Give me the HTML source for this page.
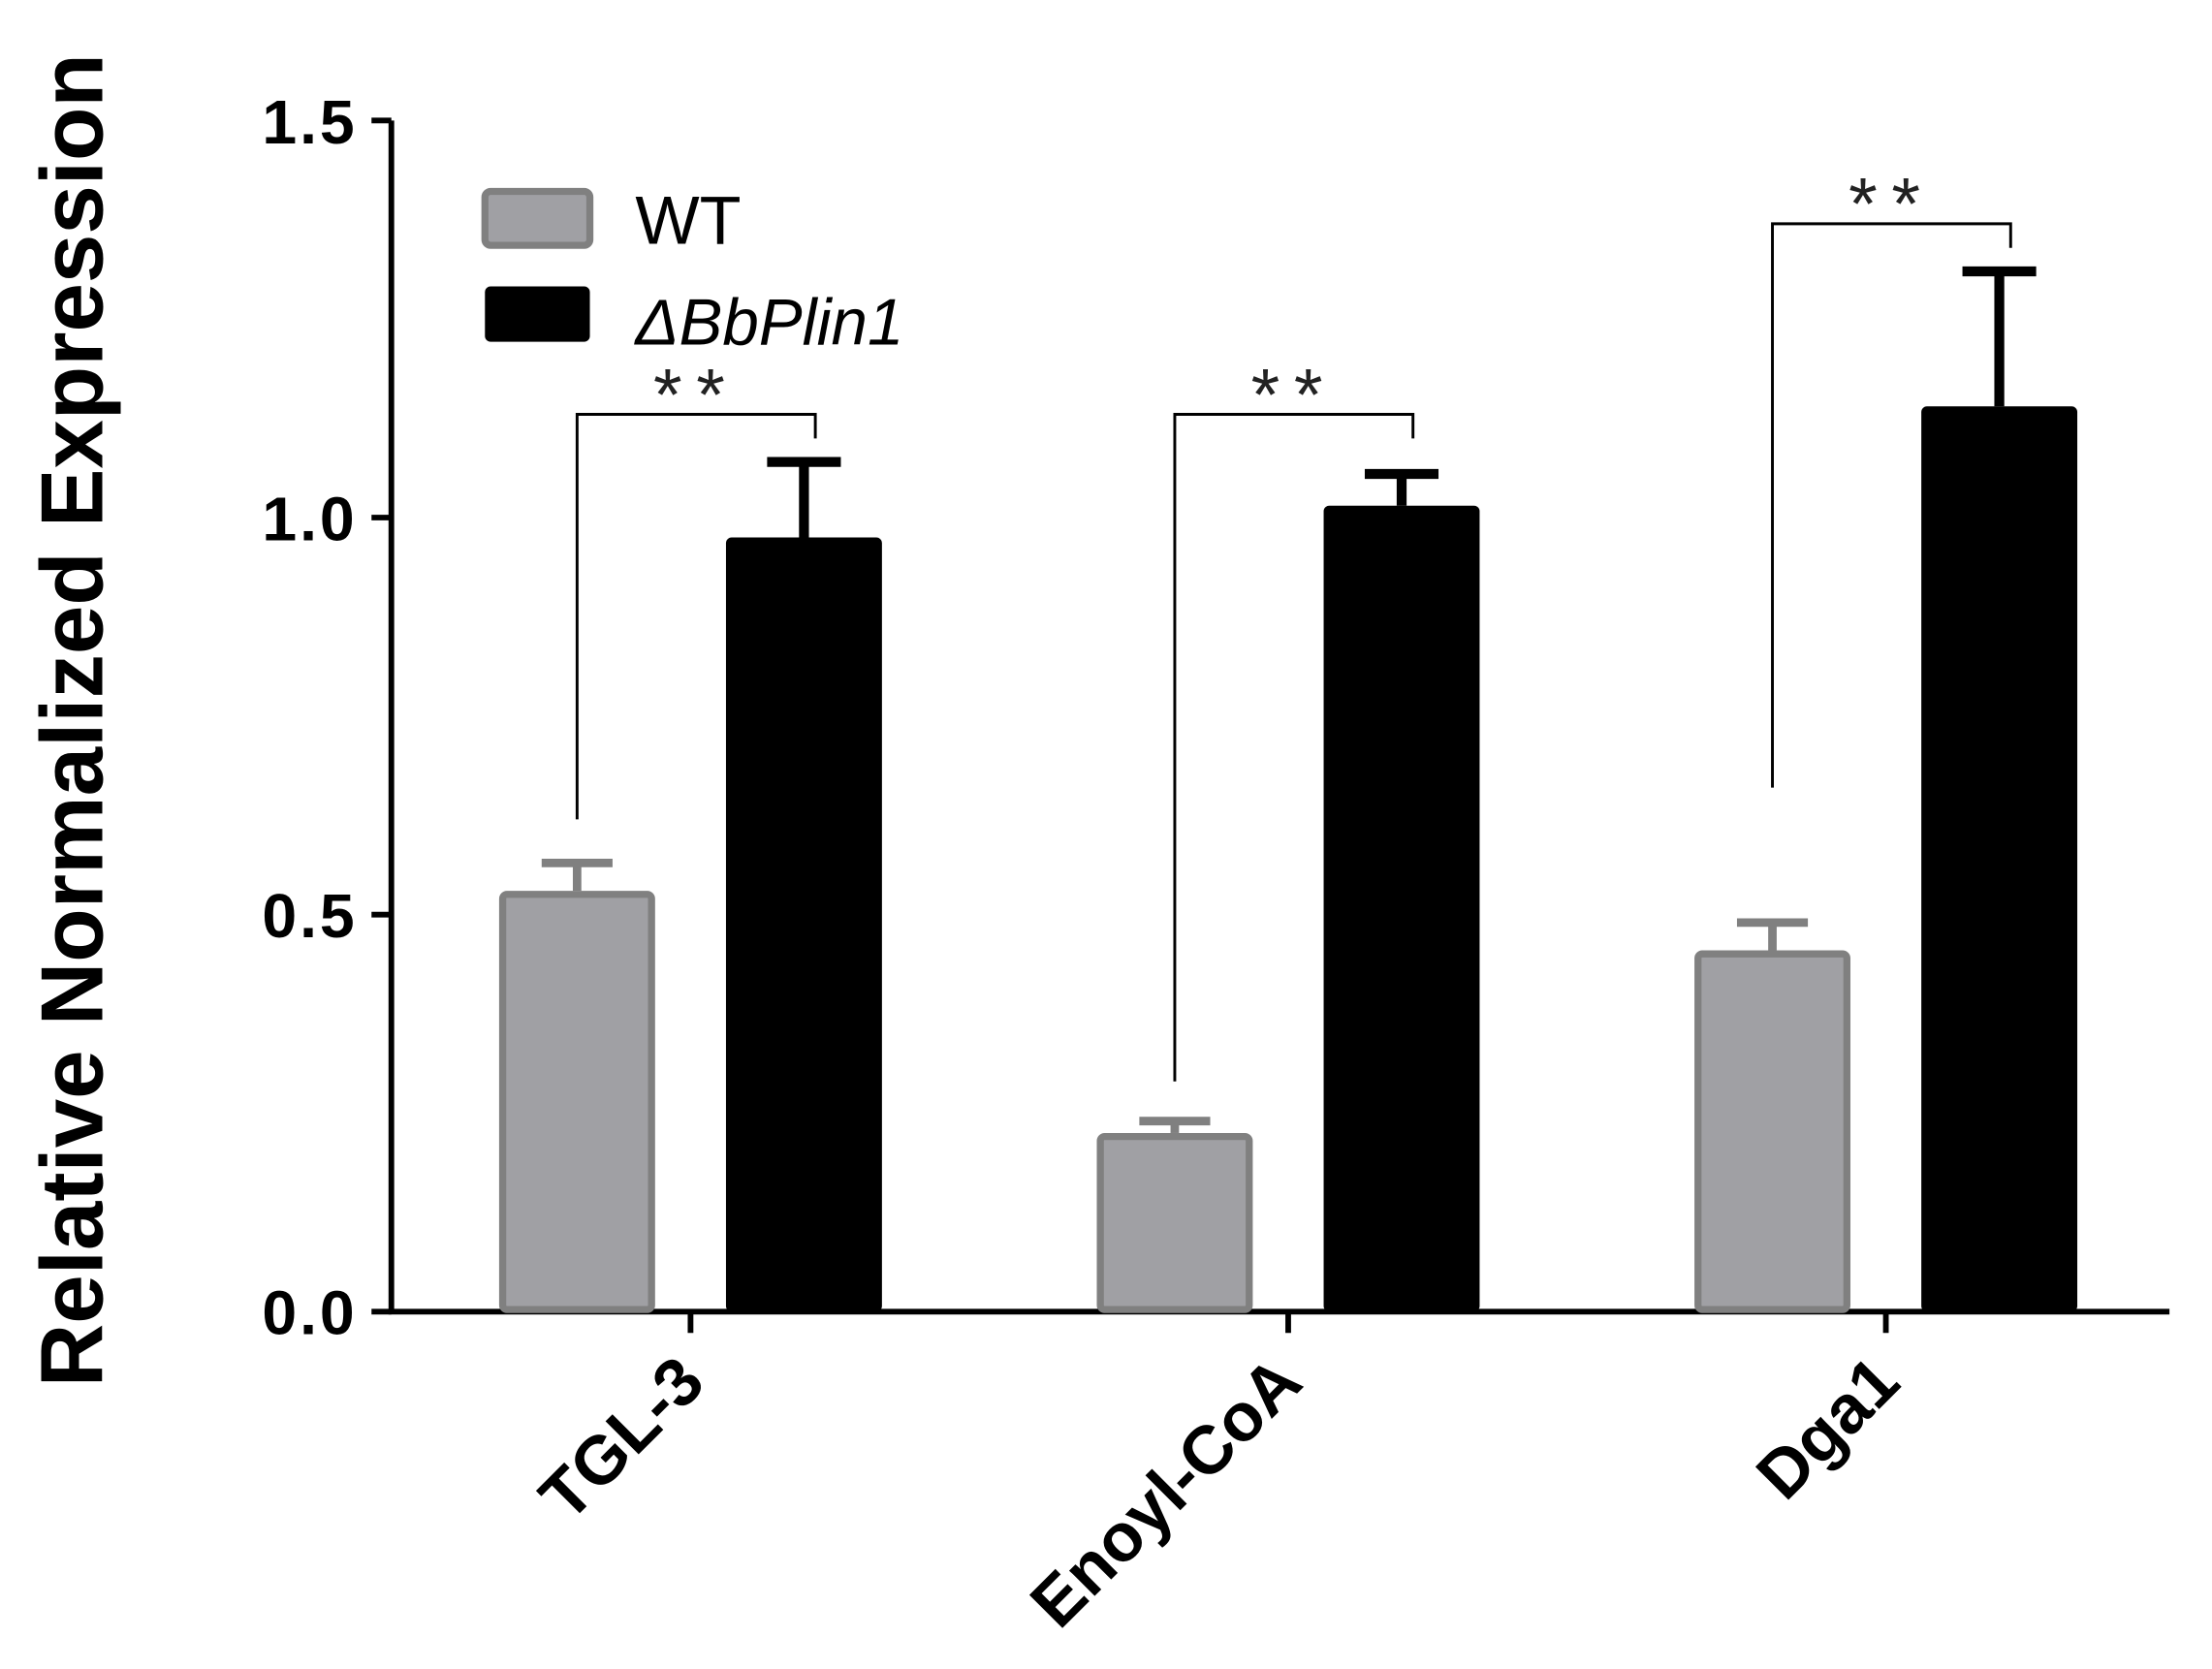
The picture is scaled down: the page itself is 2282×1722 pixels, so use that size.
<!DOCTYPE html>
<html><head><meta charset="utf-8"><style>
html,body{margin:0;padding:0;background:#fff;}
svg{display:block;}
text{font-family:"Liberation Sans",Arial,sans-serif;}
</style></head><body>
<svg id="chart" width="2282" height="1722" viewBox="0 0 1560 1177" preserveAspectRatio="none" xmlns="http://www.w3.org/2000/svg">
<rect width="1560" height="1177" fill="#fff"/>
<text transform="translate(72,508) rotate(-90)" text-anchor="middle" font-size="62" font-weight="bold" fill="#000">Relative Normalized Expression</text>
<g id="axes"></g>
<g id="bars"></g>
<g>
<rect x="342" y="135" width="74" height="38" rx="4" fill="#a0a0a4" stroke="#808080" stroke-width="5"/>
<text x="448" y="172" font-size="48" fill="#000">WT</text>
<rect x="342" y="202" width="74" height="39" rx="4" fill="#000"/>
<text x="448" y="243" font-size="46" font-style="italic" fill="#000">ΔBbPlin1</text>
</g>
</svg>
<script>
const categories = ["TGL-3","Enoyl-CoA","Dga1"];
const wtValues = [0.53, 0.225, 0.455];
const wtErrors = [0.035, 0.015, 0.035];
const mutValues = [0.975, 1.015, 1.14];
const mutErrors = [0.095, 0.04, 0.17];
const bracketLeft = [0.62, 0.29, 0.66];
const bracketTop = [1.13, 1.13, 1.37];
const yTicks = [0, 0.5, 1.0, 1.5];
const yTickLabels = ["0.0","0.5","1.0","1.5"];

const NS = "http://www.w3.org/2000/svg";
const x0 = 276, xEnd = 1530, yBase = 925, yTop = 85, yMax = 1.5;
const y = v => yBase - v / yMax * (yBase - yTop);
const groupCenter = i => 487 + i * 421.5;
const barW = 110, gap = 50;
function mk(tag, attrs, parent) {
  const e = document.createElementNS(NS, tag);
  for (const k in attrs) e.setAttribute(k, attrs[k]);
  parent.appendChild(e);
  return e;
}
const axes = document.getElementById('axes');
const bars = document.getElementById('bars');
let e;
e = mk('line', {x1:x0, y1:yTop, x2:x0, y2:yBase, stroke:'#000', 'stroke-width':4}, axes);


e = mk('line', {x1:x0-2, y1:yBase, x2:xEnd, y2:yBase, stroke:'#000', 'stroke-width':4}, axes);


yTicks.forEach((t, i) => {
  let l = mk('line', {x1:x0-14, y1:y(t), x2:x0, y2:y(t), stroke:'#000', 'stroke-width':4}, axes);
  
  
  let tx = mk('text', {x:252, y:y(t)+16, 'text-anchor':'end', 'font-size':44, 'font-weight':'bold', 'letter-spacing':'2'}, axes);
  tx.textContent = yTickLabels[i];
  
  
});
categories.forEach((c, i) => {
  const cx = groupCenter(i);
  let l = mk('line', {x1:cx, y1:yBase, x2:cx, y2:yBase+15, stroke:'#000', 'stroke-width':4}, axes);
  
  
  let tx = mk('text', {transform:`translate(${cx+12},${yBase+52}) rotate(-45)`, 'text-anchor':'end', 'font-size':48, 'font-weight':'bold'}, axes);
  tx.textContent = c;
  
  

  const wx = cx - gap/2 - barW, mx = cx + gap/2;
  let ew = mk('line', {x1:wx+barW/2, y1:y(wtValues[i]), x2:wx+barW/2, y2:y(wtValues[i]+wtErrors[i]), stroke:'#808080', 'stroke-width':6}, bars);
  
  
  let ewc = mk('line', {x1:wx+barW/2-25, y1:y(wtValues[i]+wtErrors[i]), x2:wx+barW/2+25, y2:y(wtValues[i]+wtErrors[i]), stroke:'#808080', 'stroke-width':6}, bars);
  
  
  let bw = mk('rect', {x:wx+2.5, y:y(wtValues[i])+2.5, width:barW-5, height:yBase-y(wtValues[i])-4, rx:3, fill:'#a0a0a4', stroke:'#808080', 'stroke-width':5}, bars);
  
  
  let em = mk('line', {x1:mx+barW/2, y1:y(mutValues[i]), x2:mx+barW/2, y2:y(mutValues[i]+mutErrors[i]), stroke:'#000', 'stroke-width':7}, bars);
  
  
  let emc = mk('line', {x1:mx+barW/2-26, y1:y(mutValues[i]+mutErrors[i]), x2:mx+barW/2+26, y2:y(mutValues[i]+mutErrors[i]), stroke:'#000', 'stroke-width':7}, bars);
  
  
  let bm = mk('rect', {x:mx, y:y(mutValues[i]), width:barW, height:yBase-y(mutValues[i]), rx:4, fill:'#000'}, bars);
  
  
  const lx = wx + barW/2, rx = mx + barW/2 + 8, ty = y(bracketTop[i]);
  let br = mk('path', {d:`M${lx},${y(bracketLeft[i])} V${ty} H${rx} V${ty+17}`, fill:'none', stroke:'#000', 'stroke-width':2}, bars);
  
  
  let st = mk('text', {x:(lx+rx)/2, y:ty+4, 'text-anchor':'middle', 'font-size':52, fill:'#222', 'letter-spacing':'10'}, bars);
  st.textContent = '**';
  
  
});
</script>
</body></html>
